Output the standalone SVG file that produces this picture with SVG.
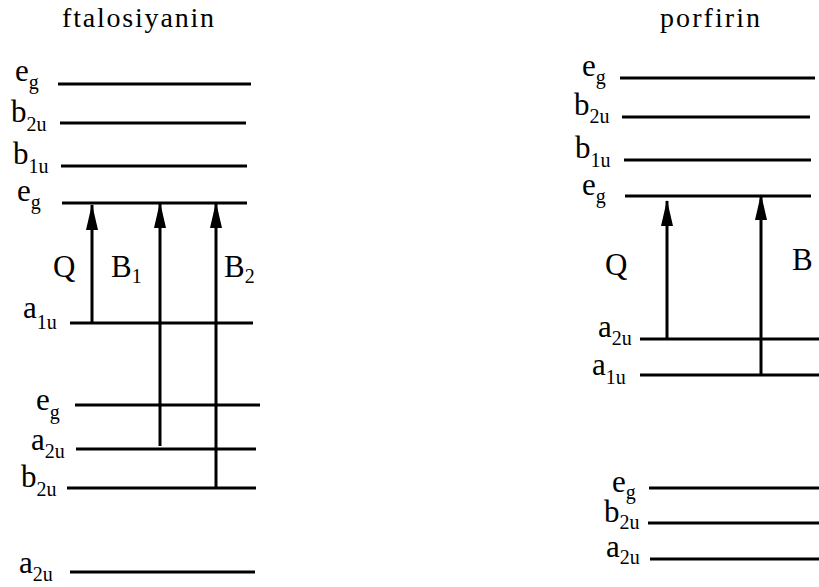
<svg xmlns="http://www.w3.org/2000/svg" width="819" height="587" viewBox="0 0 819 587">
<defs>
<style>
.lv{stroke:#000;stroke-width:3;fill:none}
.ar{stroke:#000;stroke-width:3;fill:none;marker-end:url(#ah)}
text{font-family:"Liberation Serif","Times New Roman",serif;fill:#000}
.lb{font-size:31px}
.sb{font-size:20px}
.tt{font-size:28px}
</style>
<marker id="ah" markerUnits="userSpaceOnUse" markerWidth="26" markerHeight="14" viewBox="0 0 26 14" refX="25" refY="7" orient="auto">
<path d="M0 1 L26 7 L0 13 Z" fill="#000"/>
</marker>
</defs>
<rect width="819" height="587" fill="#fff"/>

<g id="titles">
<text class="tt" x="62" y="27" textLength="152" lengthAdjust="spacing">ftalosiyanin</text>
<text class="tt" x="660" y="27" textLength="100" lengthAdjust="spacing">porfirin</text>
</g>

<g id="ftalosiyanin-levels">
<g id="f-eg-top"><line class="lv" x1="58" y1="84" x2="251" y2="84"/><text class="lb" x="15" y="81">e<tspan class="sb" dy="8">g</tspan></text></g>
<g id="f-b2u-top"><line class="lv" x1="60" y1="123" x2="246" y2="123"/><text class="lb" x="11" y="122">b<tspan class="sb" dy="9">2u</tspan></text></g>
<g id="f-b1u"><line class="lv" x1="61" y1="166" x2="247" y2="166"/><text class="lb" x="13" y="164">b<tspan class="sb" dy="9">1u</tspan></text></g>
<g id="f-eg-mid"><line class="lv" x1="62" y1="203" x2="247" y2="203"/><text class="lb" x="17" y="201">e<tspan class="sb" dy="8">g</tspan></text></g>
<g id="f-a1u"><line class="lv" x1="70" y1="323" x2="253" y2="323"/><text class="lb" x="23" y="318">a<tspan class="sb" dy="11">1u</tspan></text></g>
<g id="f-eg-low"><line class="lv" x1="75" y1="405" x2="260" y2="405"/><text class="lb" x="36" y="410">e<tspan class="sb" dy="9">g</tspan></text></g>
<g id="f-a2u-mid"><line class="lv" x1="76" y1="449" x2="256" y2="449"/><text class="lb" x="31" y="450">a<tspan class="sb" dy="8">2u</tspan></text></g>
<g id="f-b2u-low"><line class="lv" x1="67" y1="488" x2="256" y2="488"/><text class="lb" x="21" y="487">b<tspan class="sb" dy="9">2u</tspan></text></g>
<g id="f-a2u-low"><line class="lv" x1="70" y1="572" x2="255" y2="572"/><text class="lb" x="19" y="573">a<tspan class="sb" dy="8">2u</tspan></text></g>
</g>

<g id="porfirin-levels">
<g id="p-eg-top"><line class="lv" x1="620" y1="78" x2="815" y2="78"/><text class="lb" x="582" y="76">e<tspan class="sb" dy="8">g</tspan></text></g>
<g id="p-b2u"><line class="lv" x1="622" y1="117" x2="810" y2="117"/><text class="lb" x="574" y="115">b<tspan class="sb" dy="8">2u</tspan></text></g>
<g id="p-b1u"><line class="lv" x1="624" y1="160" x2="811" y2="160"/><text class="lb" x="575" y="158">b<tspan class="sb" dy="9">1u</tspan></text></g>
<g id="p-eg-mid"><line class="lv" x1="625" y1="196" x2="811" y2="196"/><text class="lb" x="582" y="195">e<tspan class="sb" dy="8">g</tspan></text></g>
<g id="p-a2u"><line class="lv" x1="640" y1="339" x2="819" y2="339"/><text class="lb" x="598" y="337">a<tspan class="sb" dy="8">2u</tspan></text></g>
<g id="p-a1u"><line class="lv" x1="640" y1="375" x2="819" y2="375"/><text class="lb" x="592" y="375">a<tspan class="sb" dy="9">1u</tspan></text></g>
<g id="p-eg-low"><line class="lv" x1="649" y1="488" x2="819" y2="488"/><text class="lb" x="612" y="492">e<tspan class="sb" dy="7">g</tspan></text></g>
<g id="p-b2u-low"><line class="lv" x1="648" y1="523" x2="819" y2="523"/><text class="lb" x="604" y="522">b<tspan class="sb" dy="7">2u</tspan></text></g>
<g id="p-a2u-low"><line class="lv" x1="650" y1="559" x2="819" y2="559"/><text class="lb" x="606" y="557">a<tspan class="sb" dy="7">2u</tspan></text></g>
</g>

<g id="connectors">
<line class="ar" x1="92" y1="323" x2="92" y2="205"/>
<line class="ar" x1="160" y1="446" x2="160" y2="203"/>
<line class="ar" x1="216" y1="489" x2="216" y2="203"/>
<line class="ar" x1="667" y1="339" x2="667" y2="201"/>
<line class="ar" x1="761" y1="376" x2="761" y2="195"/>
</g>

<g id="transition-labels">
<text class="lb" x="53" y="277">Q</text>
<text class="lb" x="111" y="277">B<tspan class="sb" dy="6">1</tspan></text>
<text class="lb" x="224" y="277">B<tspan class="sb" dy="6">2</tspan></text>
<text class="lb" x="605" y="275">Q</text>
<text class="lb" x="792" y="270">B</text>
</g>
</svg>
